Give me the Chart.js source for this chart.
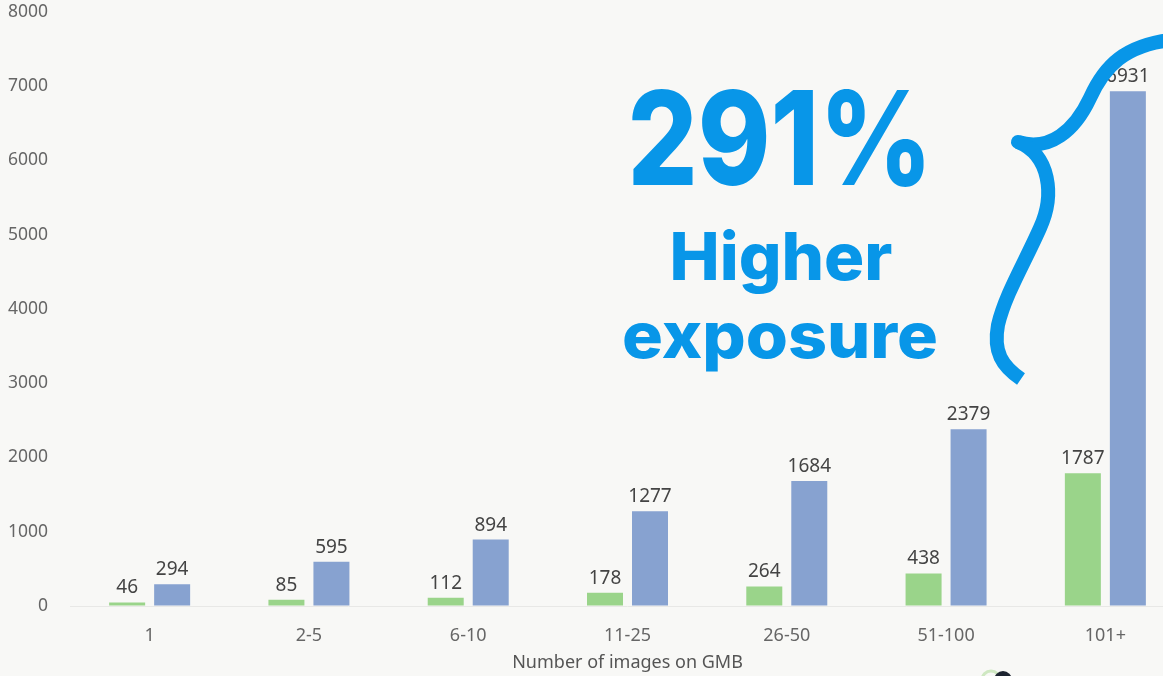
<!DOCTYPE html>
<html>
<head>
<meta charset="utf-8">
<script src="https://cdn.jsdelivr.net/npm/chart.js@4/dist/chart.umd.min.js"></script>
<style>
    html, body {
        margin: 0;
        padding: 0;
        background: #f8f8f6;
        overflow: hidden;
        width: 1163px;
        height: 676px;
    }
    .chart-container {
        position: absolute;
        left: 0;
        top: 0;
        width: 1185px;
        height: 676px;
    }
</style>
</head>
<body>
<div class="chart-container"><canvas id="chart"></canvas></div>
<script>
// Dati del grafico
const categories = ['1', '2-5', '6-10', '11-25', '26-50', '51-100', '101+'];
const withoutImages = [46, 85, 112, 178, 264, 438, 1787];
const withImages = [294, 595, 894, 1277, 1684, 2379, 6931];
const yTicks = [0, 1000, 2000, 3000, 4000, 5000, 6000, 7000, 8000];

const blue = '#0896e8';

// Plugin per scrivere il valore sopra ogni barra
const valueLabels = {
    id: 'valueLabels',
    afterDatasetsDraw(chart) {
        const ctx = chart.ctx;
        ctx.save();
        ctx.font = '19px "Noto Sans"';
        ctx.fillStyle = '#444';
        ctx.textAlign = 'center';
        ctx.textBaseline = 'bottom';
        chart.data.datasets.forEach((ds, i) => {
            chart.getDatasetMeta(i).data.forEach((bar, j) => {
                ctx.fillText(ds.data[j], bar.x, bar.y - 5);
            });
        });
        ctx.restore();
    }
};

// Testo grande e parentesi graffa in alto a destra
function fitText(ctx, text, cx, baseline, size, width) {
    ctx.save();
    ctx.font = '800 ' + size + 'px Inter';
    const w = ctx.measureText(text).width;
    ctx.translate(cx, baseline);
    ctx.scale(width / w, 1);
    ctx.fillText(text, 0, 0);
    ctx.restore();
}

const highlight = {
    id: 'highlight',
    afterDraw(chart) {
        const ctx = chart.ctx;
        ctx.save();
        ctx.fillStyle = blue;
        ctx.textAlign = 'center';
        ctx.textBaseline = 'alphabetic';
        fitText(ctx, '291%', 780, 185, 130, 305);
        fitText(ctx, 'Higher', 781, 280, 66, 223);
        fitText(ctx, 'exposure', 780, 358, 64, 316);

        // parentesi graffa
        ctx.strokeStyle = blue;
        ctx.lineWidth = 14;
        ctx.lineCap = 'round';
        ctx.beginPath();
        ctx.moveTo(1018, 142);
        ctx.bezierCurveTo(1050, 152, 1075, 130, 1090, 98);
        ctx.bezierCurveTo(1105, 65, 1125, 46, 1170, 40);
        ctx.stroke();
        ctx.lineCap = 'butt';
        ctx.beginPath();
        ctx.moveTo(1018, 142);
        ctx.bezierCurveTo(1050, 155, 1055, 195, 1040, 228);
        ctx.bezierCurveTo(1025, 262, 1005, 295, 998, 325);
        ctx.bezierCurveTo(993, 352, 1002, 366, 1021, 379);
        ctx.stroke();

        // logo tagliato in basso
        ctx.lineWidth = 3;
        ctx.strokeStyle = '#cfe8c2';
        ctx.beginPath();
        ctx.arc(991, 680, 9, 0, Math.PI * 2);
        ctx.stroke();
        ctx.fillStyle = '#1d2430';
        ctx.beginPath();
        ctx.arc(1003, 680, 9, 0, Math.PI * 2);
        ctx.fill();
        ctx.restore();
    }
};

new Chart(document.getElementById('chart'), {
    type: 'bar',
    data: {
        labels: categories,
        datasets: [
            {
                label: 'Without',
                data: withoutImages,
                backgroundColor: '#9ad48a',
                barPercentage: 0.8,
                categoryPercentage: 0.565
            },
            {
                label: 'With',
                data: withImages,
                backgroundColor: '#87a2d0',
                barPercentage: 0.8,
                categoryPercentage: 0.565
            }
        ]
    },
    options: {
        responsive: true,
        maintainAspectRatio: false,
        animation: false,
        layout: {
            padding: { top: 12, right: 0, left: 0, bottom: 0 }
        },
        plugins: {
            legend: { display: false },
            tooltip: { enabled: false }
        },
        scales: {
            x: {
                grid: { display: false },
                border: { display: false },
                ticks: {
                    color: '#666',
                    font: { family: 'Noto Sans', size: 18 },
                    padding: 11
                },
                title: {
                    display: true,
                    text: 'Number of images on GMB',
                    color: '#555',
                    font: { family: 'Noto Sans', size: 18 },
                    padding: { top: 0, bottom: 2 }
                },
                afterFit(scale) {
                    scale.height = 70;
                }
            },
            y: {
                min: 0,
                max: 8000,
                afterBuildTicks(scale) {
                    scale.ticks = yTicks.map(v => ({ value: v }));
                },
                grid: {
                    drawTicks: false,
                    color: ctx => ctx.tick && ctx.tick.value === 0 ? '#e8e8e6' : 'rgba(0,0,0,0)'
                },
                border: { display: false },
                ticks: {
                    color: '#666',
                    font: { family: 'Noto Sans', size: 17.5 },
                    padding: 22,
                    callback: v => String(v)
                },
                afterFit(scale) {
                    scale.width = 70;
                    scale.paddingTop = 0;
                    scale.paddingBottom = 0;
                }
            }
        }
    },
    plugins: [valueLabels, highlight]
});
</script>
</body>
</html>
